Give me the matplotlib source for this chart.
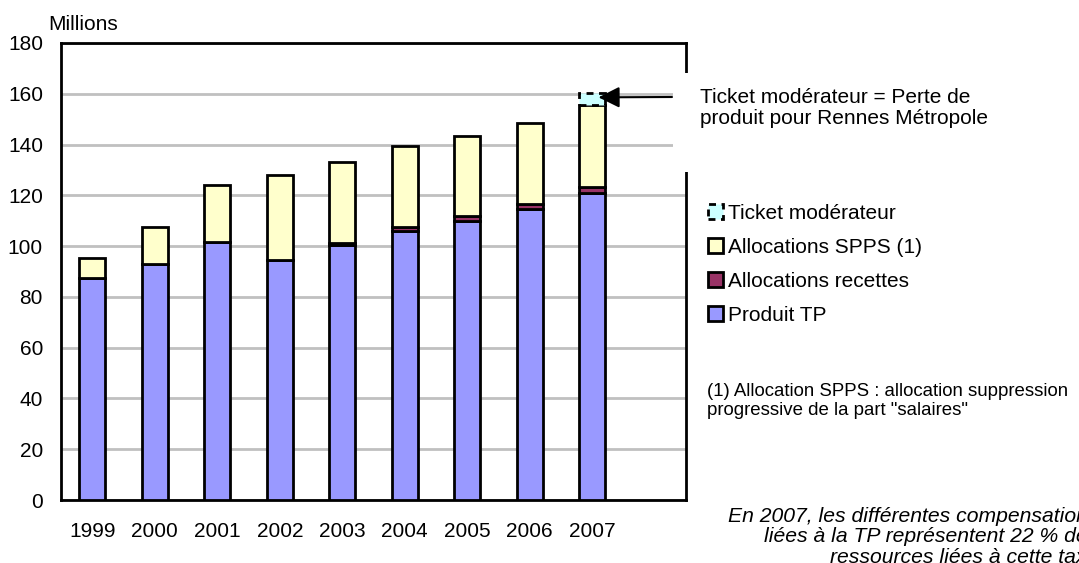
import matplotlib
matplotlib.use("Agg")
import matplotlib.pyplot as plt
import numpy as np
from matplotlib.patches import Rectangle

plt.rcParams['font.family'] = ['Liberation Sans', 'DejaVu Sans']

years = ['1999', '2000', '2001', '2002', '2003', '2004', '2005', '2006', '2007', '']
produit_tp = [87.5, 93.0, 101.5, 94.5, 100.5, 106.0, 110.0, 114.5, 121.0, 0]
alloc_recettes = [0, 0, 0, 0, 0.8, 1.5, 2.0, 2.0, 2.3, 0]
alloc_spps = [8.0, 14.5, 22.5, 33.5, 31.7, 32.0, 31.5, 32.0, 32.2, 0]
ticket = [0, 0, 0, 0, 0, 0, 0, 0, 4.7, 0]

W, H = 1079, 563
fig = plt.figure(figsize=(W / 100, H / 100), dpi=100)

def fx(x):
    return x / W

def fy(y):
    return 1 - y / H

FS = 15

ax = fig.add_axes([fx(61), fy(500), fx(686) - fx(61), fy(43) - fy(500)])

x = np.arange(len(years))
tp = np.array(produit_tp)
rec = np.array(alloc_recettes)
spps = np.array(alloc_spps)
tk = np.array(ticket)
bw = 0.41
lw = 2.0

m = tp > 0
ax.bar(x[m], tp[m], bw, color='#9999FF', edgecolor='black', linewidth=lw, zorder=3, label='Produit TP')
m = rec > 0
ax.bar(x[m], rec[m], bw, bottom=tp[m], color='#993366', edgecolor='black', linewidth=lw, zorder=3,
       label='Allocations recettes')
m = spps > 0
ax.bar(x[m], spps[m], bw, bottom=(tp + rec)[m], color='#FFFFCC', edgecolor='black', linewidth=lw, zorder=3,
       label='Allocations SPPS (1)')
m = tk > 0
ax.bar(x[m], tk[m], bw, bottom=(tp + rec + spps)[m], color='#CCFFFF', edgecolor='black', linewidth=lw,
       linestyle=(0, (2.5, 2)), zorder=3, label='Ticket modérateur')

ax.set_xlim(-0.5, len(years) - 0.5)
ax.set_ylim(0, 180)
ax.set_yticks(np.arange(0, 181, 20))
ax.set_xticks(x)
ax.set_xticklabels(years)
ax.tick_params(axis='both', length=0, labelsize=FS)
ax.tick_params(axis='x', pad=16)
ax.tick_params(axis='y', pad=13)
ax.yaxis.grid(True, color='#c0c0c0', linewidth=2, zorder=0)
ax.set_axisbelow(True)
for s in ax.spines.values():
    s.set_linewidth(2)
    s.set_color('black')

fig.text(fx(48), fy(24), 'Millions', fontsize=FS, va='center', ha='left')

# white box interrupting right frame
fig.patches.append(Rectangle((fx(673), fy(172)), fx(1079) - fx(673), fy(73) - fy(172),
                             transform=fig.transFigure, facecolor='white', edgecolor='none', zorder=5))

ax.annotate('', xy=(8.1, 158.6), xycoords='data',
            xytext=(fx(672), fy(97)), textcoords='figure fraction',
            arrowprops=dict(arrowstyle='-|>', mutation_scale=32, color='black', lw=1.5,
                            shrinkA=0, shrinkB=0),
            zorder=6, annotation_clip=False)

fig.text(fx(700), fy(108), 'Ticket modérateur = Perte de\nproduit pour Rennes Métropole',
         fontsize=FS, va='center', ha='left', linespacing=1.1, zorder=7)

handles, labels = ax.get_legend_handles_labels()
leg = fig.legend(handles[::-1], labels[::-1], loc='upper left',
                 bbox_to_anchor=(fx(708), fy(204)), frameon=False, fontsize=FS,
                 handlelength=0.7, handleheight=0.7, handletextpad=0.25, labelspacing=0.72,
                 borderaxespad=0, borderpad=0)

fig.text(fx(707), fy(401), '(1) Allocation SPPS : allocation suppression\nprogressive de la part "salaires"',
         fontsize=13.4, va='center', ha='left', linespacing=1.08)

fig.text(fx(1098), fy(537), 'En 2007, les différentes compensations\nliées à la TP représentent 22 % des\nressources liées à cette taxe',
         fontsize=15.2, style='italic', va='center', ha='right', multialignment='right', linespacing=1.1)

fig.savefig('out.png', dpi=100)
